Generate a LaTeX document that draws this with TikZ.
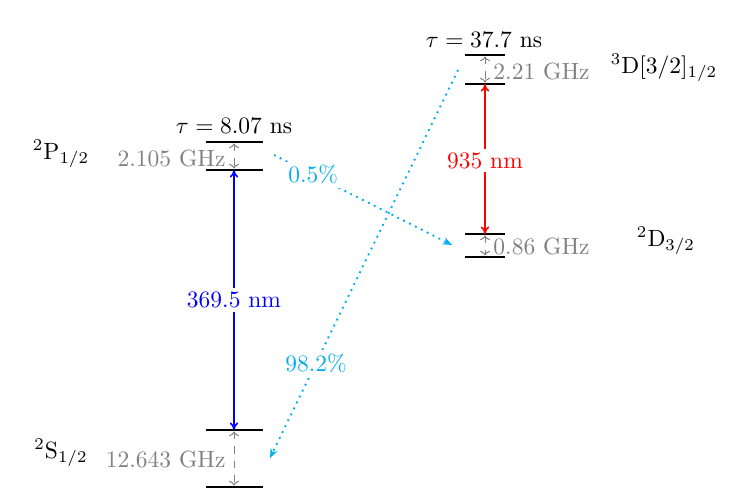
\documentclass[tikz,border=0pt]{standalone}
\usetikzlibrary{arrows.meta}
\definecolor{decay}{RGB}{0,174,239}
\begin{document}
\begin{tikzpicture}[x=0.4255pt,y=-0.4255pt,
  lvl/.style={line width=0.8pt},
  splitarrow/.style={gray,dashed,line width=0.4pt,{To[length=2pt]}-{To[length=2pt]},shorten <=0.6pt,shorten >=0.6pt},
  laser/.style={line width=0.7pt,{To[length=3.2pt,width=3.6pt]}-{To[length=3.2pt,width=3.6pt]}},
  decayarrow/.style={decay,dotted,line width=0.8pt,-{Stealth[length=4pt,width=3.2pt]}},
  graytext/.style={text=gray,inner sep=0pt},
  statelabel/.style={inner sep=0pt},
  onlinelabel/.style={fill=white,inner sep=1.5pt}]
\useasboundingbox (0,0) rectangle (750,497);
% levels
\coordinate (Pt1) at (206,142); \coordinate (Pt2) at (263,142);
\coordinate (Pb1) at (206,170); \coordinate (Pb2) at (263,170);
\coordinate (St1) at (206,430); \coordinate (St2) at (263,430);
\coordinate (Sb1) at (206,487); \coordinate (Sb2) at (263,487);
\coordinate (Dt1) at (465,55); \coordinate (Dt2) at (505,55);
\coordinate (Db1) at (465,84); \coordinate (Db2) at (505,84);
\coordinate (Et1) at (465,234); \coordinate (Et2) at (505,234);
\coordinate (Eb1) at (465,257); \coordinate (Eb2) at (505,257);
\draw[lvl] (Pt1) -- (Pt2); \draw[lvl] (Pb1) -- (Pb2);
\draw[lvl] (St1) -- (St2); \draw[lvl] (Sb1) -- (Sb2);
\draw[lvl] (Dt1) -- (Dt2); \draw[lvl] (Db1) -- (Db2);
\draw[lvl] (Et1) -- (Et2); \draw[lvl] (Eb1) -- (Eb2);
% hyperfine splittings
\coordinate (Pa) at (234,142); \coordinate (Pb) at (234,170);
\coordinate (Sa) at (234,430); \coordinate (Sb) at (234,487);
\coordinate (Da) at (485,55); \coordinate (Db) at (485,84);
\coordinate (Ea) at (485,234); \coordinate (Eb) at (485,257);
\draw[splitarrow] (Pa) -- (Pb);
\draw[splitarrow] (Sa) -- (Sb);
\draw[splitarrow] (Da) -- (Db);
\draw[splitarrow] (Ea) -- (Eb);
\node[graytext,anchor=east] (pghz) at (226,158) {2.105 GHz};
\node[graytext,anchor=east] (sghz) at (226,459) {12.643 GHz};
\node[graytext,anchor=west] (dghz) at (493,71) {2.21 GHz};
\node[graytext,anchor=west] (eghz) at (493,246) {0.86 GHz};
% lifetimes
\node (tauP) at (234,126) {$\tau = 8.07$ ns};
\node (tauD) at (484,40) {$\tau = 37.7$ ns};
% state labels
\node[statelabel] (Plab) at (61,154) {$^2$P$_{1/2}$};
\node[statelabel] (Slab) at (61,453) {$^2$S$_{1/2}$};
\node[statelabel] (Dlab) at (664,68) {$^3$D[3/2]$_{1/2}$};
\node[statelabel] (Elab) at (666,241) {$^2$D$_{3/2}$};
% lasers
\draw[laser,blue] (Sa) -- node[onlinelabel,text=blue,pos=0.5] (l369) {369.5 nm} (Pb);
\draw[laser,red] (Ea) -- node[onlinelabel,text=red,pos=0.49] (l935) {935 nm} (Db);
% decays
\coordinate (d1s) at (274,155); \coordinate (d1e) at (452,245);
\coordinate (d2s) at (458,70); \coordinate (d2e) at (270,458);
\draw[decayarrow] (d1s) -- node[onlinelabel,text=decay,pos=0.22] (br1) {0.5\%} (d1e);
\draw[decayarrow] (d2s) -- node[onlinelabel,text=decay,pos=0.755] (br2) {98.2\%} (d2e);
\end{tikzpicture}
\end{document}
